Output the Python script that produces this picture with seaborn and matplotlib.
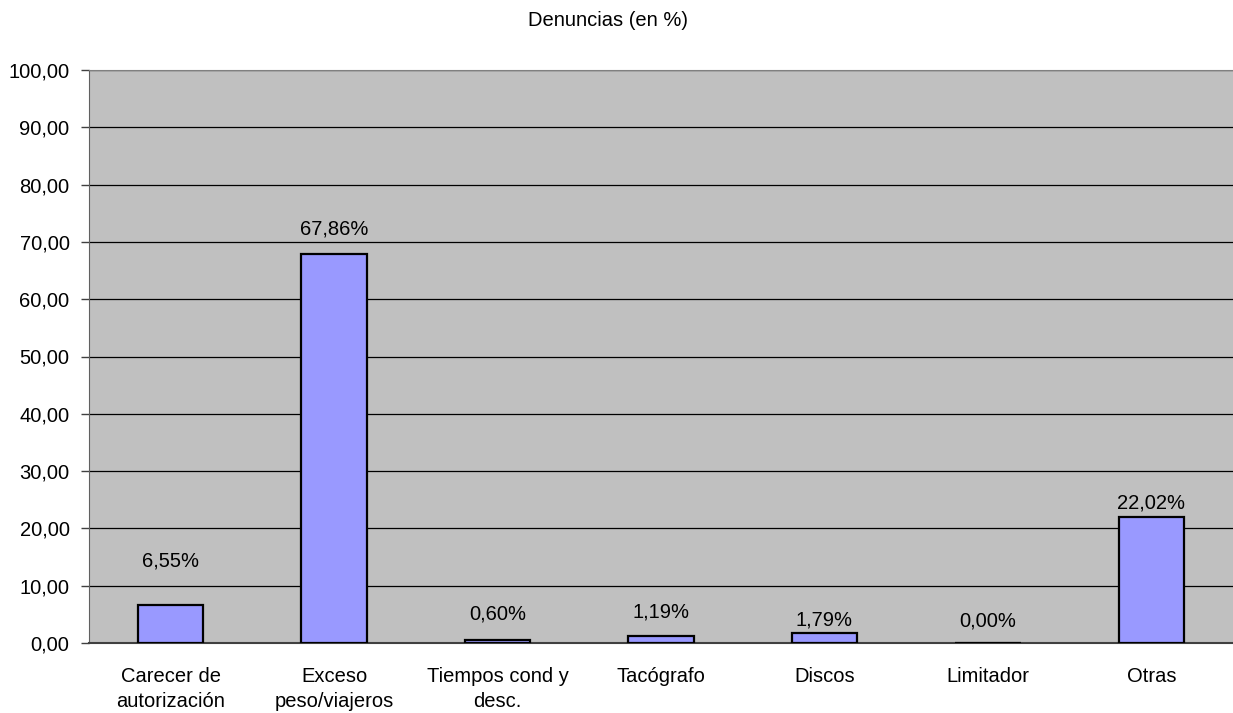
import matplotlib.pyplot as plt
import seaborn as sns
import numpy as np
from matplotlib.ticker import FuncFormatter, FixedLocator

categories = ["Carecer de\nautorización", "Exceso\npeso/viajeros", "Tiempos cond y\ndesc.",
              "Tacógrafo", "Discos", "Limitador", "Otras"]
values = [6.55, 67.86, 0.60, 1.19, 1.79, 0.00, 22.02]
y_ticks = np.arange(0, 101, 10)

# label offsets above the bar top (points), as placed in the original
label_offsets = [31.7, 18, 18.7, 17.3, 9.4, 15.8, 10]

sns.set_style("white")
plt.rcParams['font.family'] = ['Liberation Sans', 'DejaVu Sans']
plt.rcParams['text.color'] = 'black'
plt.rcParams['xtick.color'] = 'black'
plt.rcParams['ytick.color'] = 'black'

fs = 14.5
fig = plt.figure(figsize=(12.33, 7.13), dpi=100)
ax = fig.add_axes([89 / 1233, 70 / 713, 1 - 89 / 1233, 573 / 713])
ax.set_facecolor('#C0C0C0')

sns.barplot(x=categories, y=values, color='#9999FF', saturation=1, width=0.4,
            edgecolor='black', linewidth=1.6, ax=ax, zorder=3)

ax.set_ylim(0, 100)
ax.set_xlim(-0.5, len(categories) - 0.5)
ax.set_yticks(y_ticks)
ax.yaxis.set_major_formatter(FuncFormatter(lambda v, p: f"{v:.2f}".replace('.', ',')))
ax.grid(axis='y', color='black', linewidth=0.9, zorder=1)
ax.set_axisbelow(True)

# x tick marks at category boundaries, labels at centres
ax.xaxis.set_minor_locator(FixedLocator(np.arange(-0.5, len(categories), 1.0)))
ax.tick_params(axis='x', which='major', length=0, pad=17, labelsize=fs)
ax.tick_params(axis='x', which='minor', length=6, width=1, color='#404040', direction='out')
ax.tick_params(axis='y', length=6, width=1, color='#404040', direction='out', pad=8, labelsize=fs, left=True)
for lbl in ax.get_xticklabels():
    lbl.set_linespacing(1.45)
ax.set_xlabel('')
ax.set_ylabel('')

for i, v in enumerate(values):
    ax.annotate(f"{v:.2f}%".replace('.', ','), (i, v), xytext=(0, label_offsets[i]),
                textcoords='offset points', ha='center', va='center', fontsize=fs, zorder=4)

ax.spines['left'].set_color('#606060')
ax.spines['bottom'].set_color('#404040')
ax.spines['bottom'].set_linewidth(1.5)
ax.spines['top'].set_color('#808080')
ax.spines['right'].set_visible(False)

fig.text(608 / 1233, 1 - 20 / 713, "Denuncias (en %)", ha='center', va='center', fontsize=fs)

fig.savefig('out.png', dpi=100)
